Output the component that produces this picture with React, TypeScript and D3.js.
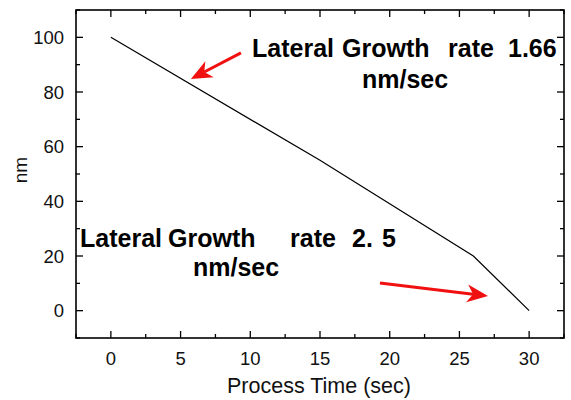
import React from "react";
import * as d3 from "d3";

const timeSec = [0, 15, 26, 30];
const thicknessNm = [100, 55, 20, 0];
const xTicks = [0, 5, 10, 15, 20, 25, 30];
const yTicks = [0, 20, 40, 60, 80, 100];
const xMinor = [-2.5, 2.5, 7.5, 12.5, 17.5, 22.5, 27.5, 32.5];
const yMinor = [-10, 10, 30, 50, 70, 90, 110];
const arrows = [
  { x1: 9.33, y1: 94.3, x2: 5.74, y2: 84.8 },
  { x1: 19.3, y1: 10.1, x2: 27.05, y2: 5.4 },
];
const note1Words = ["Lateral", "Growth", "rate", "1.66"];
const note2Words = ["Lateral", "Growth", "rate", "2.", "5"];

const W = 571;
const H = 400;
const L = 76, R = 564, T = 10, B = 338;
const FONT = "'Liberation Sans', Arial, sans-serif";

export default function App() {
  const x = d3.scaleLinear().domain([-2.5, 32.5]).range([L, R]);
  const y = d3.scaleLinear().domain([-10, 110]).range([B, T]);
  const line = d3
    .line<number>()
    .x((_, i) => x(timeSec[i]))
    .y((d) => y(d));

  const head = (a: { x1: number; y1: number; x2: number; y2: number }) => {
    const sx = x(a.x1), sy = y(a.y1), ex = x(a.x2), ey = y(a.y2);
    const ang = Math.atan2(ey - sy, ex - sx);
    const len = 21, half = 9, notch = 15;
    const c = Math.cos(ang), s = Math.sin(ang);
    const bx = ex - len * c, by = ey - len * s;
    const p1 = [bx - half * s, by + half * c];
    const p2 = [bx + half * s, by - half * c];
    const n = [ex - notch * c, ey - notch * s];
    return {
      path: `M${ex},${ey}L${p1[0]},${p1[1]}L${n[0]},${n[1]}L${p2[0]},${p2[1]}Z`,
      lx2: n[0],
      ly2: n[1],
      sx,
      sy,
    };
  };

  const n1x = [252, 342, 448, 508];
  const n2x = [80, 168, 290, 352, 382];

  return (
    <svg width={W} height={H} style={{ display: "block", position: "absolute", left: 0, top: 0 }}>
      <rect x={0} y={0} width={W} height={H} fill="#fff" />
      {xTicks.map((t) => (
        <g key={"xt" + t}>
          <line x1={x(t)} x2={x(t)} y1={B} y2={B - 7} stroke="#000" strokeWidth={1.3} />
          <line x1={x(t)} x2={x(t)} y1={T} y2={T + 7} stroke="#000" strokeWidth={1.3} />
          <text x={x(t)} y={365} textAnchor="middle" fontFamily={FONT} fontSize={18.5} fill="#111">
            {t}
          </text>
        </g>
      ))}
      {xMinor.map((t) => (
        <g key={"xm" + t}>
          <line x1={x(t)} x2={x(t)} y1={B} y2={B - 4} stroke="#000" strokeWidth={1.3} />
          <line x1={x(t)} x2={x(t)} y1={T} y2={T + 4} stroke="#000" strokeWidth={1.3} />
        </g>
      ))}
      {yTicks.map((t) => (
        <g key={"yt" + t}>
          <line x1={L} x2={L + 7} y1={y(t)} y2={y(t)} stroke="#000" strokeWidth={1.3} />
          <line x1={R} x2={R - 7} y1={y(t)} y2={y(t)} stroke="#000" strokeWidth={1.3} />
          <text x={64} y={y(t) + 6.5} textAnchor="end" fontFamily={FONT} fontSize={18.5} fill="#111">
            {t}
          </text>
        </g>
      ))}
      {yMinor.map((t) => (
        <g key={"ym" + t}>
          <line x1={L} x2={L + 4} y1={y(t)} y2={y(t)} stroke="#000" strokeWidth={1.3} />
          <line x1={R} x2={R - 4} y1={y(t)} y2={y(t)} stroke="#000" strokeWidth={1.3} />
        </g>
      ))}
      <rect x={L} y={T} width={R - L} height={B - T} fill="none" stroke="#000" strokeWidth={1.6} />
      <path d={line(thicknessNm) || ""} fill="none" stroke="#000" strokeWidth={1.2} />
      {arrows.map((a, i) => {
        const h = head(a);
        return (
          <g key={"ar" + i}>
            <line x1={h.sx} y1={h.sy} x2={h.lx2} y2={h.ly2} stroke="#f01010" strokeWidth={3} />
            <path d={h.path} fill="#f01010" />
          </g>
        );
      })}
      <text y={57} fontFamily={FONT} fontWeight="bold" fontSize={25} fill="#000">
        {note1Words.map((w, i) => (
          <tspan key={i} x={n1x[i]}>
            {w}
          </tspan>
        ))}
      </text>
      <text x={362} y={88} fontFamily={FONT} fontWeight="bold" fontSize={25} fill="#000">
        nm/sec
      </text>
      <text y={247} fontFamily={FONT} fontWeight="bold" fontSize={25} fill="#000">
        {note2Words.map((w, i) => (
          <tspan key={i} x={n2x[i]}>
            {w}
          </tspan>
        ))}
      </text>
      <text x={193} y={276} fontFamily={FONT} fontWeight="bold" fontSize={25} fill="#000">
        nm/sec
      </text>
      <text x={319} y={393} textAnchor="middle" fontFamily={FONT} fontSize={21.5} fill="#111">
        Process Time (sec)
      </text>
      <text
        transform={`translate(27,170) rotate(-90)`}
        textAnchor="middle"
        fontFamily={FONT}
        fontSize={19}
        fill="#111"
      >
        nm
      </text>
    </svg>
  );
}
